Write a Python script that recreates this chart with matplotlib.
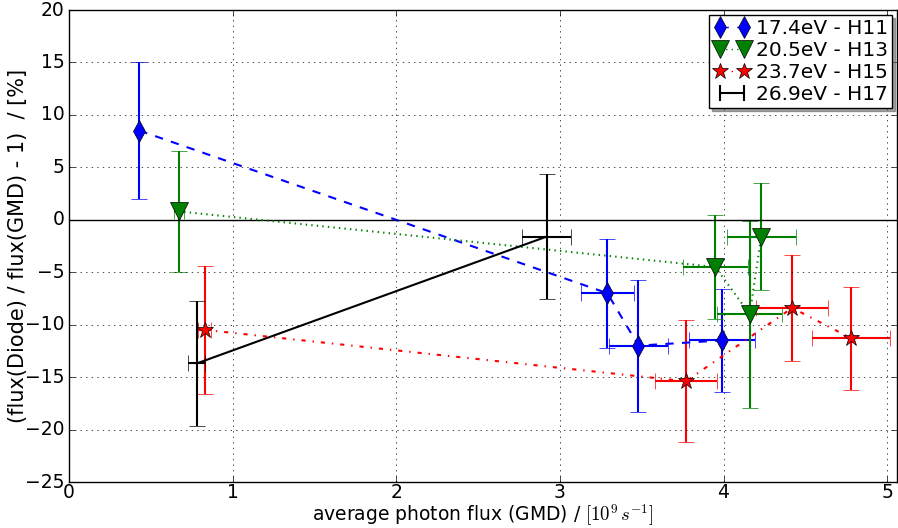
import matplotlib
matplotlib.use('Agg')
import matplotlib.pyplot as plt
from matplotlib.lines import Line2D

plt.style.use('classic')

# H11 - 17.4 eV
x11 = [0.43, 3.29, 3.48, 3.99]
y11 = [8.5, -7.0, -12.0, -11.5]
xe11 = [0.0, 0.16, 0.18, 0.20]
ye11 = [6.5, 5.2, 6.3, 4.9]

# H13 - 20.5 eV
x13 = [0.67, 3.95, 4.16, 4.23]
y13 = [0.8, -4.5, -9.0, -1.6]
xe13 = [0.03, 0.20, 0.20, 0.21]
ye13 = [5.75, 5.0, 8.9, 5.1]

# H15 - 23.7 eV
x15 = [0.83, 3.77, 4.42, 4.78]
y15 = [-10.5, -15.4, -8.4, -11.3]
xe15 = [0.04, 0.19, 0.22, 0.24]
ye15 = [6.1, 5.8, 5.05, 4.9]

# H17 - 26.9 eV
x17 = [0.78, 2.92]
y17 = [-13.7, -1.6]
xe17 = [0.05, 0.15]
ye17 = [6.0, 6.0]

labels = ['17.4eV - H11', '20.5eV - H13', '23.7eV - H15', '26.9eV - H17']

fig = plt.figure(figsize=(8.98, 5.28), dpi=100)
ax = fig.add_axes([69/898, 1-482/528, (897-69)/898, (482-10)/528])

ax.errorbar(x11, y11, xerr=xe11, yerr=ye11, fmt='bd--', ms=11, mec='k', lw=1.5,
            capsize=6)
ax.errorbar(x13, y13, xerr=xe13, yerr=ye13, fmt='gv:', ms=13, mec='k', lw=1.5,
            capsize=6)
ax.errorbar(x15, y15, xerr=xe15, yerr=ye15, fmt='r*-.', ms=12, mec='k', lw=1.5,
            capsize=6)
ax.errorbar(x17, y17, xerr=xe17, yerr=ye17, fmt='k-', lw=1.5, capsize=6)

ax.axhline(0, color='k', lw=1)
ax.set_xlim(0, 5.06)
ax.set_ylim(-25, 20)
ax.grid(True)
ax.set_xlabel(r'average photon flux (GMD) / $[10^9\,s^{-1}]$', fontsize=13.5, labelpad=0)
ax.set_ylabel('(flux(Diode) / flux(GMD) - 1)  / [%]', fontsize=15, labelpad=-2)
ax.tick_params(labelsize=13.5, pad=3)
ax.tick_params(axis='x', pad=1)

handles = [
    Line2D([], [], color='b', ls='--', marker='d', ms=11, mec='k'),
    Line2D([], [], color='g', ls=':', marker='v', ms=13, mec='k'),
    Line2D([], [], color='r', ls='-.', marker='*', ms=12, mec='k'),
    Line2D([], [], color='k', ls='-', lw=1.5, marker='|', ms=12, mew=1.5),
]
ax.legend(handles, labels, loc='upper right', numpoints=2, fontsize=14.5,
          borderpad=0.2, handletextpad=0.3, labelspacing=0.15, handlelength=1.8,
          borderaxespad=0.25, shadow=True)

fig.savefig('out.png', dpi=100)
